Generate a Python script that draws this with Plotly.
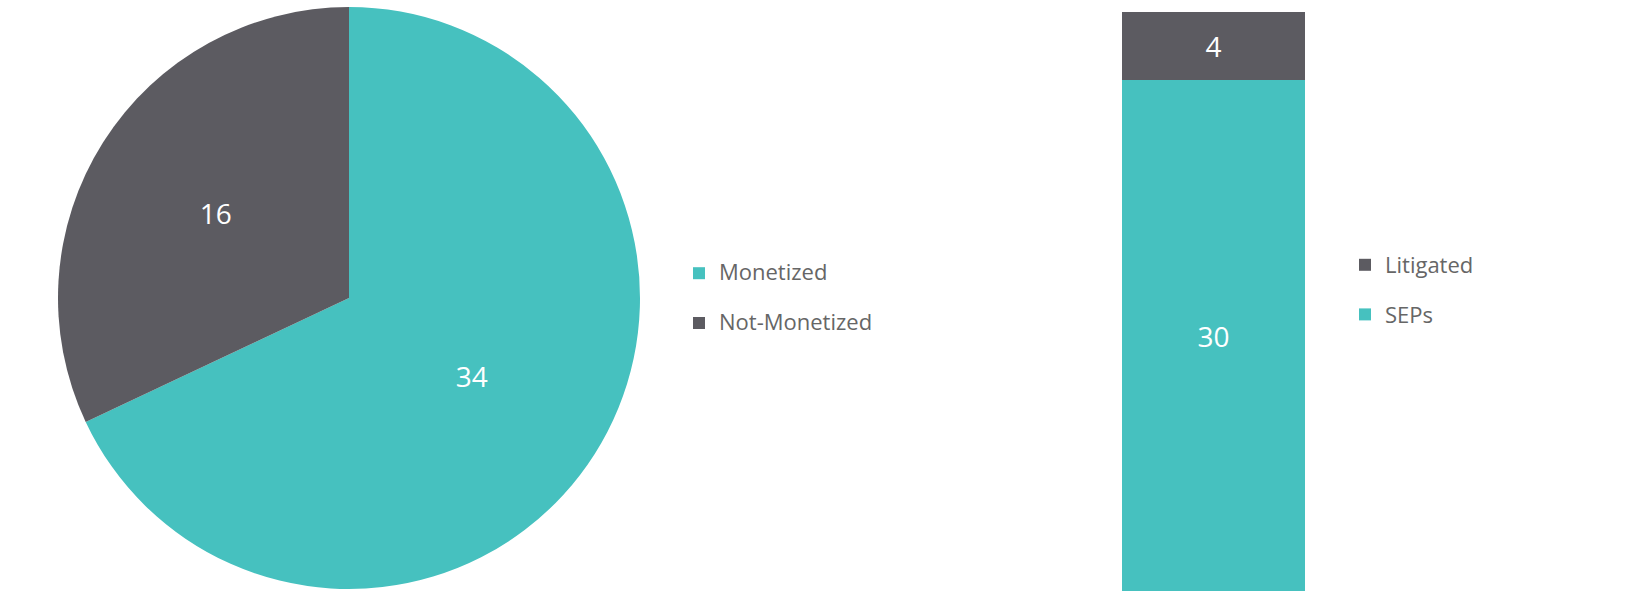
import plotly.graph_objects as go

# Data
pie_labels = ["Monetized", "Not-Monetized"]
pie_values = [34, 16]
bar_categories = ["Patents"]
sep_values = [30]
litigated_values = [4]

TEAL = "#46C1BF"
GRAY = "#5C5B61"
FONT = "Open Sans"
LEG_COLOR = "#666666"

W, H = 1630, 600

# legend entries for the pie: larger visible text, extra blank line gives row spacing
pie_legend_labels = [
    "<span style='font-size:22px'>%s</span><br> " % lab for lab in pie_labels
]

fig = go.Figure()

fig.add_trace(go.Pie(
    labels=pie_legend_labels,
    values=pie_values,
    customdata=pie_labels,
    sort=False,
    direction="clockwise",
    rotation=0,
    marker=dict(colors=[TEAL, GRAY], line=dict(width=0)),
    textinfo="value",
    textposition="inside",
    insidetextorientation="horizontal",
    textfont=dict(family=FONT, size=28, color="white"),
    domain=dict(x=[58 / W, 640 / W], y=[11 / H, 593 / H]),
    legend="legend",
    hovertemplate="%{customdata}: %{value}<extra></extra>",
))

fig.add_trace(go.Bar(
    x=bar_categories, y=sep_values, name="SEPs",
    marker=dict(color=TEAL, line=dict(width=0)),
    text=sep_values, textposition="inside", insidetextanchor="middle",
    textfont=dict(family=FONT, size=28, color="white"),
    legend="legend2", legendgroup="sep", legendrank=2,
    width=1,
))
fig.add_trace(go.Bar(
    x=bar_categories, y=litigated_values, name="Litigated",
    marker=dict(color=GRAY, line=dict(width=0)),
    text=litigated_values, textposition="inside", insidetextanchor="middle",
    textfont=dict(family=FONT, size=28, color="white"),
    legend="legend2", legendgroup="lit", legendrank=1,
    width=1,
))

fig.update_layout(
    width=W, height=H,
    margin=dict(l=0, r=0, t=0, b=0),
    paper_bgcolor="white", plot_bgcolor="white",
    barmode="stack",
    font=dict(family=FONT, color=LEG_COLOR, size=22),
    xaxis=dict(domain=[1122 / W, 1305 / W], range=[-0.5, 0.5], visible=False, fixedrange=True),
    yaxis=dict(domain=[9 / H, 588 / H], range=[0, 34], visible=False, fixedrange=True),
    legend=dict(x=679 / W, y=1 - 255 / H, xanchor="left", yanchor="top",
                font=dict(family=FONT, size=18, color=LEG_COLOR),
                valign="top",
                bgcolor="rgba(0,0,0,0)"),
    legend2=dict(x=1345 / W, y=1 - 244 / H, xanchor="left", yanchor="top",
                 font=dict(family=FONT, size=22, color=LEG_COLOR),
                 traceorder="grouped", tracegroupgap=18,
                 bgcolor="rgba(0,0,0,0)"),
    showlegend=True,
)

fig.write_html("out.html", config={"displayModeBar": False},
               post_script="document.body.style.margin='0';")
